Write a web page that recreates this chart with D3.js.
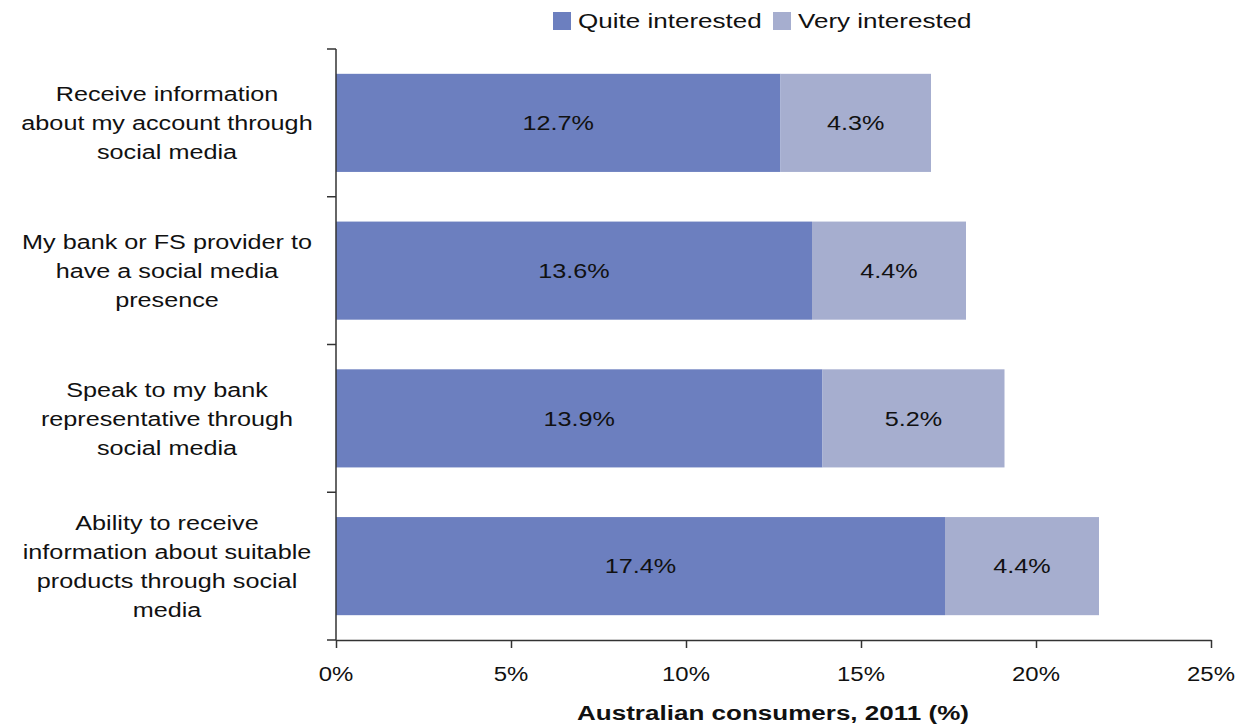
<!DOCTYPE html>
<html>
<head>
<meta charset="utf-8">
<script src="https://cdn.jsdelivr.net/npm/d3@7"></script>
<style>
  html, body { margin: 0; padding: 0; background: #fff; }
  svg { display: block; font-family: "Liberation Sans", Arial, sans-serif; }
</style>
</head>
<body>
<svg id="chart" width="1246" height="726"></svg>
<script>
// Interest in banking through social media, Australian consumers 2011
const categories = [
  ["Receive information", "about my account through", "social media"],
  ["My bank or FS provider to", "have a social media", "presence"],
  ["Speak to my bank", "representative through", "social media"],
  ["Ability to receive", "information about suitable", "products through social", "media"]
];
const quiteInterested = [12.7, 13.6, 13.9, 17.4];
const veryInterested = [4.3, 4.4, 5.2, 4.4];
const seriesNames = ["Quite interested", "Very interested"];
const xTicks = [0, 5, 10, 15, 20, 25];
const axisTitle = "Australian consumers, 2011 (%)";

const colors = ["#6c7fbf", "#a6aecf"];
const WIDE = 1.2; // horizontal stretch of the lettering

const svg = d3.select("#chart");
const plotLeft = 336, plotRight = 1211, plotTop = 49, plotBottom = 640;

const x = d3.scaleLinear().domain([0, 25]).range([plotLeft, plotRight]);
const y = d3.scaleBand().domain(d3.range(categories.length)).range([plotTop, plotBottom])
  .paddingInner(0.336).paddingOuter(0.168);

// text placed at (px, py), widened horizontally about its anchor
function wideText(parent, px, py, str, opts = {}) {
  const t = parent.append("text")
    .attr("transform", `translate(${px},${py}) scale(${opts.scale || WIDE},1)`)
    .attr("x", 0).attr("y", 0)
    .attr("text-anchor", opts.anchor || "middle")
    .attr("font-size", opts.size || 21)
    .attr("fill", "#111");
  if (opts.bold) t.attr("font-weight", "bold");
  if (opts.dy) t.attr("dy", opts.dy);
  t.text(str);
  return t;
}

const rows = categories.map((c, i) => ({
  i,
  segs: [
    { s: 0, v: quiteInterested[i], x0: 0, x1: quiteInterested[i] },
    { s: 1, v: veryInterested[i], x0: quiteInterested[i], x1: quiteInterested[i] + veryInterested[i] }
  ]
}));

// bars with value labels
const g = svg.append("g");
rows.forEach(r => {
  r.segs.forEach(sg => {
    g.append("rect")
      .attr("x", x(sg.x0))
      .attr("y", y(r.i))
      .attr("width", x(sg.x1) - x(sg.x0))
      .attr("height", y.bandwidth())
      .attr("fill", colors[sg.s]);
    wideText(g, (x(sg.x0) + x(sg.x1)) / 2, y(r.i) + y.bandwidth() / 2,
      sg.v.toFixed(1) + "%", { dy: "0.35em" });
  });
});

// x axis
const xAxis = d3.axisBottom(x).tickValues(xTicks).tickFormat("")
  .tickSizeOuter(0).tickSizeInner(8);
const gx = svg.append("g").attr("transform", `translate(0,${plotBottom})`).call(xAxis);
gx.select(".domain").attr("stroke", "#333").attr("stroke-width", 1.5);
gx.selectAll(".tick line").attr("stroke", "#333").attr("stroke-width", 1.5);
xTicks.forEach(v => wideText(svg, x(v), plotBottom + 41, v + "%", { scale: 1.14 }));

// y axis line with ticks at band boundaries
const yBounds = d3.range(categories.length + 1).map(i => plotTop + i * (plotBottom - plotTop) / categories.length);
svg.append("line").attr("x1", plotLeft).attr("x2", plotLeft).attr("y1", plotTop).attr("y2", plotBottom)
  .attr("stroke", "#333").attr("stroke-width", 1.5);
svg.selectAll(".ytick").data(yBounds).enter().append("line")
  .attr("x1", plotLeft - 9).attr("x2", plotLeft).attr("y1", d => d).attr("y2", d => d)
  .attr("stroke", "#333").attr("stroke-width", 1.5);

// category labels
const lh = 29;
categories.forEach((lines, i) => {
  const cy = y(i) + y.bandwidth() / 2;
  lines.forEach((ln, k) => {
    wideText(svg, 167, cy + (k - (lines.length - 1) / 2) * lh, ln, { dy: "0.35em" });
  });
});

// axis title
wideText(svg, 773, 720, axisTitle, { bold: true, scale: 1.24 });

// legend
const legendItems = [
  { name: seriesNames[0], c: colors[0], x: 553 },
  { name: seriesNames[1], c: colors[1], x: 773 }
];
legendItems.forEach(it => {
  svg.append("rect").attr("x", it.x).attr("y", 12).attr("width", 18).attr("height", 18).attr("fill", it.c);
  wideText(svg, it.x + 25, 28, it.name, { anchor: "start", size: 21, scale: 1.24 });
});
</script>
</body>
</html>
